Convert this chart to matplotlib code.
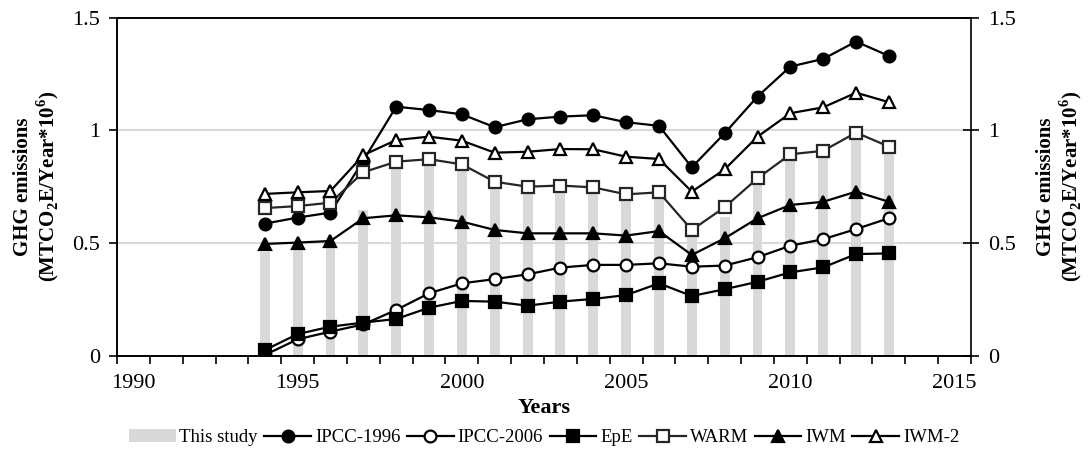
import numpy as np
import matplotlib.pyplot as plt
import matplotlib as mpl
from matplotlib.ticker import FixedLocator

mpl.rcParams['font.family'] = ['Liberation Serif', 'DejaVu Serif']
mpl.rcParams['mathtext.fontset'] = 'custom'
mpl.rcParams['mathtext.rm'] = 'Liberation Serif:bold'
mpl.rcParams['mathtext.bf'] = 'Liberation Serif:bold'

years = list(range(1994, 2014))

this_study = [0.462, 0.49, 0.50, 0.646, 0.85, 0.86, 0.84, 0.76, 0.74, 0.75,
              0.74, 0.70, 0.72, 0.55, 0.614, 0.78, 0.89, 0.90, 0.99, 0.92]
ipcc_1996 = [0.586, 0.613, 0.635, 0.866, 1.105, 1.09, 1.071, 1.014, 1.049, 1.061,
             1.067, 1.036, 1.02, 0.836, 0.987, 1.15, 1.283, 1.317, 1.394, 1.33]
ipcc_2006 = [0.003, 0.073, 0.107, 0.139, 0.203, 0.277, 0.321, 0.340, 0.361, 0.391,
             0.403, 0.403, 0.41, 0.395, 0.40, 0.437, 0.488, 0.517, 0.562, 0.61]
epe = [0.025, 0.096, 0.129, 0.147, 0.163, 0.213, 0.243, 0.240, 0.222, 0.240,
       0.252, 0.269, 0.321, 0.265, 0.295, 0.328, 0.37, 0.392, 0.451, 0.454]
warm = [0.655, 0.664, 0.679, 0.814, 0.861, 0.872, 0.849, 0.772, 0.750, 0.755,
        0.747, 0.716, 0.725, 0.558, 0.659, 0.787, 0.894, 0.909, 0.99, 0.928]
iwm = [0.496, 0.502, 0.509, 0.61, 0.623, 0.614, 0.595, 0.558, 0.543, 0.543,
       0.543, 0.533, 0.553, 0.447, 0.521, 0.61, 0.669, 0.683, 0.728, 0.683]
iwm_2 = [0.718, 0.725, 0.731, 0.89, 0.957, 0.972, 0.954, 0.901, 0.905, 0.917,
         0.916, 0.883, 0.873, 0.728, 0.827, 0.972, 1.076, 1.102, 1.167, 1.125]

yticks = [0, 0.5, 1, 1.5]
ytick_labels = ['0', '0.5', '1', '1.5']
xtick_years = [1990, 1995, 2000, 2005, 2010, 2015]

fig = plt.figure(figsize=(10.88, 4.55), dpi=100)
ax = fig.add_axes([0.1075, 0.2182, 0.785, 0.743])

bars = ax.bar(years, this_study, width=0.3, color='#d9d9d9', label='This study', zorder=1)

kw = dict(lw=1.6, ms=8.5, mew=1.6, zorder=3)
l1, = ax.plot(years, ipcc_1996, color='black', marker='o', label='IPCC-1996', **kw)
l2, = ax.plot(years, ipcc_2006, color='black', marker='o', mfc='white', label='IPCC-2006', **kw)
l3, = ax.plot(years, epe, color='black', marker='s', label='EpE', **kw)
l4, = ax.plot(years, warm, color='#262626', marker='s', mfc='white', label='WARM', **kw)
l5, = ax.plot(years, iwm, color='black', marker='^', label='IWM', **kw)
l6, = ax.plot(years, iwm_2, color='black', marker='^', mfc='white', label='IWM-2', **kw)

ax.set_xlim(1989.5, 2015.5)
ax.set_ylim(0, 1.5)
ax.xaxis.set_major_locator(FixedLocator(xtick_years))
ax.xaxis.set_minor_locator(FixedLocator(np.arange(1989.5, 2016, 1.0)))
ax.tick_params(axis='x', which='major', length=0, labelsize=16, pad=13)
ax.tick_params(axis='x', which='minor', length=5.5, width=1.2, direction='out')
ax.yaxis.set_major_locator(FixedLocator(yticks))
ax.set_yticklabels(ytick_labels)
ax.tick_params(axis='y', length=6, width=1.2, direction='out', labelsize=16, pad=6)

for y in [0.5, 1.0]:
    ax.axhline(y, color='#d9d9d9', lw=1.5, zorder=0)

for s in ax.spines.values():
    s.set_linewidth(1.2)
ax.spines['right'].set_visible(False)

ylab = 'GHG emissions\n(MTCO$_\\mathbf{2}$E/Year*10$^\\mathbf{6}$)'
ax.set_ylabel(ylab, fontsize=15, fontweight='bold', labelpad=8, linespacing=1.1)
ax.set_xlabel('Years', fontsize=16, fontweight='bold', labelpad=4)

ax2 = ax.twinx()
ax2.set_ylim(0, 1.5)
ax2.yaxis.set_major_locator(FixedLocator(yticks))
ax2.set_yticklabels(ytick_labels)
ax2.tick_params(axis='y', length=11, width=1.2, direction='inout', labelsize=16, pad=7)
for s in ax2.spines.values():
    s.set_linewidth(1.2)
ax2.set_ylabel(ylab, fontsize=15, fontweight='bold', labelpad=14, linespacing=1.1)

handles = [bars, l1, l2, l3, l4, l5, l6]
fig.legend(handles, [h.get_label() for h in handles], loc='center',
           bbox_to_anchor=(0.5, 0.038), ncol=7, frameon=False, fontsize=13.5,
           handlelength=2.5, handletextpad=0.2, columnspacing=0.35)

fig.savefig('out.png', dpi=100)
